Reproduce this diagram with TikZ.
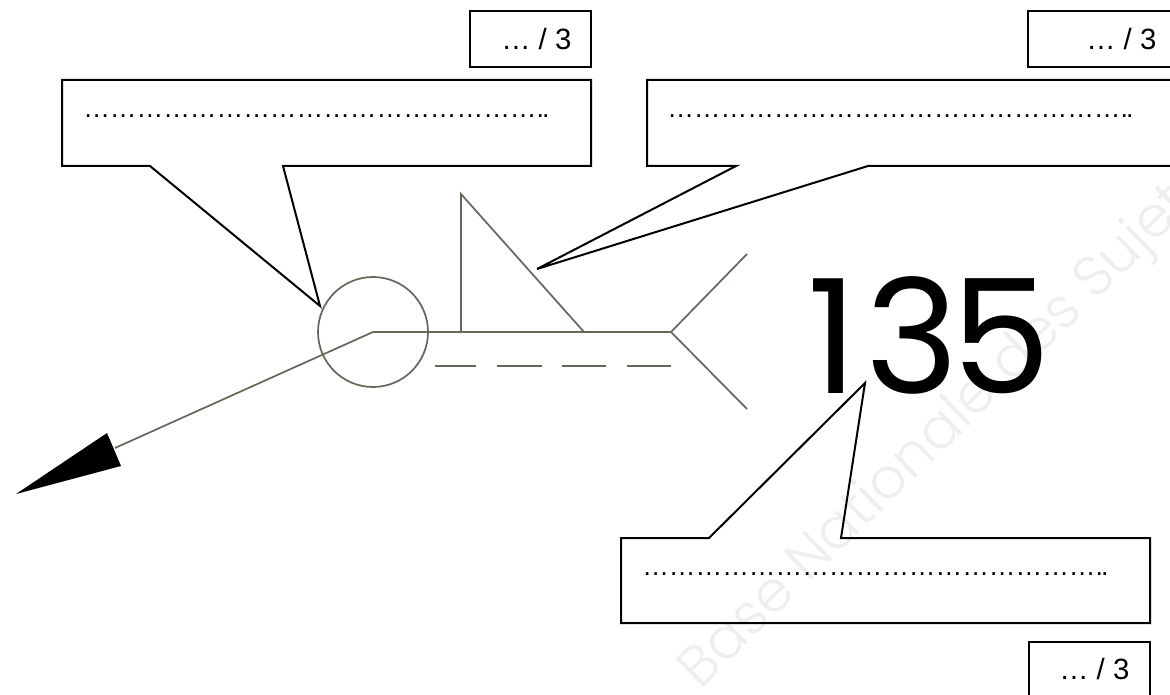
\documentclass[tikz,border=0pt]{standalone}
\usepackage{fontspec}
\setmainfont{Liberation Sans}
\newfontfamily\markfont{Poppins Light}
\newfontfamily\sizefont[LetterSpace=2]{Poppins}
\definecolor{W1}{RGB}{104,104,90}
\definecolor{W2}{RGB}{238,238,238}
\newcommand{\dotone}{…}
\newcommand{\dotfive}{\dotone\dotone\dotone\dotone\dotone}
\newcommand{\dotrow}{\dotfive\dotfive\dotfive\dotone\dotone.\kern-1.4pt.}
\tikzset{
  calloutline/.style={black, line width=1.5pt, line join=miter},
  weldline/.style={W1, line width=1.3pt},
  scoretext/.style={right, inner sep=0pt, font=\fontsize{22}{24}\selectfont},
  dotstext/.style={right, inner sep=0pt, font=\fontsize{20}{24}\selectfont},
}

\begin{document}
\begin{tikzpicture}[x=0.75pt, y=-0.75pt]
      \clip (0, 0) rectangle (1170, 695);
      % watermark
      \node[W2, rotate=44.5, font=\fontsize{42.5}{46}\selectfont\markfont] (mark) at (947, 428) {Base Nationale des Sujets};
      % score boxes
      \draw[calloutline] (470, 11) rectangle (591, 67);
      \node[scoretext] (score1) at (501, 39) {… / 3};
      \draw[calloutline] (1028, 11) rectangle (1180, 67);
      \node[scoretext] (score2) at (1086, 39) {… / 3};
      \draw[calloutline] (1029, 642) rectangle (1150, 705);
      \node[scoretext] (score3) at (1059, 669) {… / 3};
      % callouts
      \draw[calloutline] (62, 80) -- (591, 80) -- (591, 166) -- (283, 166) -- (320, 306) -- (150, 166) -- (62, 166) -- cycle;
      \node[dotstext] (dots1) at (83, 116) {\dotrow};
      \draw[calloutline] (647, 80) -- (1180, 80) -- (1180, 166) -- (868, 166) -- (537, 269) -- (736, 166) -- (647, 166) -- cycle;
      \node[dotstext] (dots2) at (667, 116) {\dotrow};
      \draw[calloutline] (621, 538) -- (709, 538) -- (865, 383) -- (841, 538) -- (1150, 538) -- (1150, 623) -- (621, 623) -- cycle;
      \node[dotstext] (dots3) at (642, 574) {\dotrow};
      % weld symbol
      \coordinate (elbow) at (373, 332);
      \coordinate (fork) at (671, 332);
      \coordinate (headbase) at (115, 448);
      \draw[weldline] (elbow) circle (55);
      \draw[weldline] (headbase) -- (elbow) -- (fork);
      \draw[weldline] (747, 254) -- (fork) -- (747, 409);
      \draw[weldline] (461, 332) -- (461, 194) -- (584, 332);
      \draw[weldline] (435, 366) -- (476, 366);
      \draw[weldline] (497, 366) -- (542, 366);
      \draw[weldline] (562, 366) -- (606, 366);
      \draw[weldline] (627, 366) -- (671, 366);
      \fill[black] (16, 494) -- (107, 433) -- (121, 466) -- cycle;
      % size
      \node[inner sep=0pt, font=\fontsize{119}{130}\selectfont\sizefont] (size) at (929, 335) {1\kern6pt 3\kern-6pt 5};
    \end{tikzpicture}
\end{document}
